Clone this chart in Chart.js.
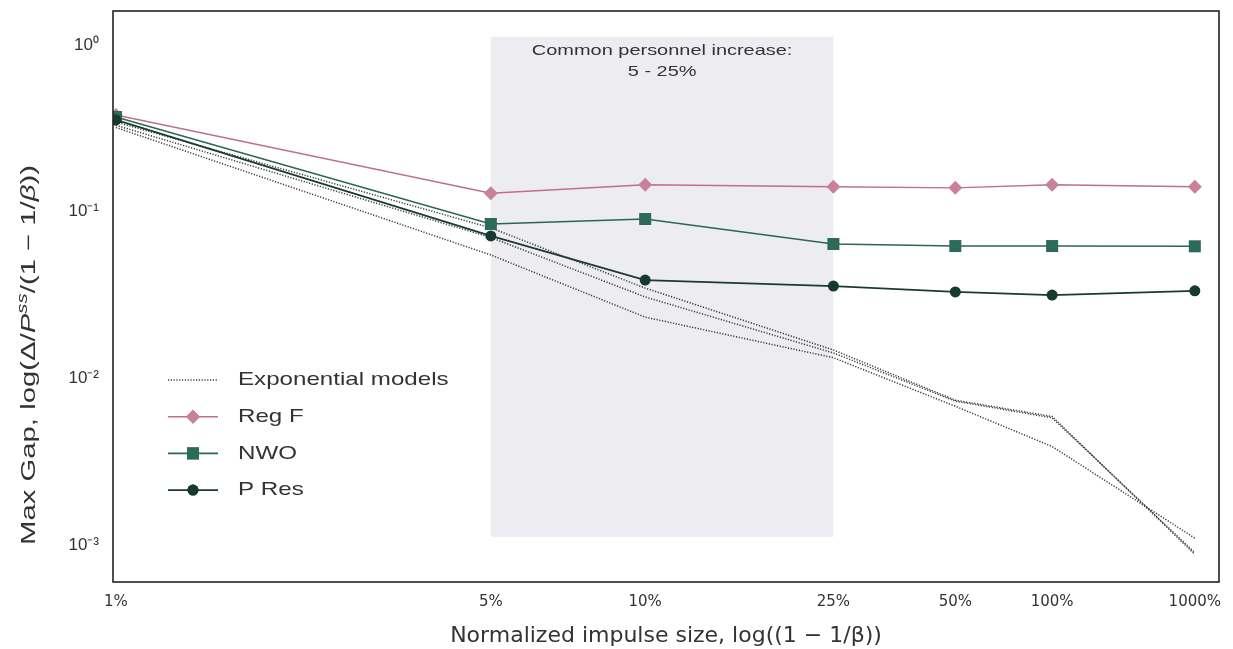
<!DOCTYPE html>
<html>
<head>
<meta charset="utf-8">
<script src="https://cdn.jsdelivr.net/npm/chart.js@4/dist/chart.umd.min.js"></script>
<style>
html,body{margin:0;padding:0;background:#fff;}
#wrap{width:1233px;height:649px;position:relative;}
</style>
</head>
<body>
<div id="wrap"><canvas id="c" width="1233" height="649"></canvas></div>
<script>
// ---- data ----
const impulsePct = [1, 5, 10, 25, 50, 100, 1000];
const tickLabels = ['1%', '5%', '10%', '25%', '50%', '100%', '1000%'];
const regF = [0.38, 0.129, 0.145, 0.141, 0.139, 0.145, 0.141];
const nwo  = [0.37, 0.0844, 0.0904, 0.064, 0.0622, 0.0622, 0.0620];
const pRes = [0.355, 0.0715, 0.0389, 0.0358, 0.0330, 0.0316, 0.0335];
const expModel1 = [0.345, 0.080, 0.0348, 0.0148, 0.0074, 0.0059, 0.00088];
const expModel2 = [0.330, 0.070, 0.0308, 0.0142, 0.0073, 0.0058, 0.00090];
const expModel3 = [0.320, 0.055, 0.0233, 0.0133, 0.0068, 0.0039, 0.00110];
const yTickValues = [1, 0.1, 0.01, 0.001];
const yTickLabels = ['10\u2070', '10\u207B\u00B9', '10\u207B\u00B2', '10\u207B\u00B3'];
const bandPct = [5, 25];
const bandY = [0.00112, 1.12];
const annotationLines = ['Common personnel increase:', '5 - 25%'];
const xTitle = 'Normalized impulse size, log((1 \u2212 1/\u03B2))';
// y title pieces: [text, italic, superscript]
const yTitleParts = [['Max Gap, log(\u0394/', false, false], ['P', true, false], ['ss', true, true],
                     ['/(1 \u2212 1/', false, false], ['\u03B2', true, false], ['))', false, false]];

// x position: 1 - 1/beta for impulse p (beta = 1 + p)
const toX = p => (p / 100) / (1 + p / 100);
const xVals = impulsePct.map(toX);
const pts = arr => arr.map((v, i) => ({x: xVals[i], y: v}));

const FONT = "'Liberation Sans', Arial, sans-serif";
const WFONT = "'DejaVu Sans', sans-serif";

const expStyle = {borderColor: '#3a3a3a', borderWidth: 1.5, borderDash: [1.2, 1.6], pointRadius: 0, fill: false, tension: 0, clip: 0, order: 10};

const datasets = [
  Object.assign({label: 'Exponential models', data: pts(expModel1)}, expStyle),
  Object.assign({label: 'Exponential models', data: pts(expModel2)}, expStyle),
  Object.assign({label: 'Exponential models', data: pts(expModel3)}, expStyle),
  {label: 'Reg F', data: pts(regF), borderColor: '#bf6f8b', borderWidth: 1.4, clip: 0, order: 3,
   pointStyle: 'rectRot', pointRadius: 7, pointBackgroundColor: '#c9819b', pointBorderColor: '#c9819b', pointBorderWidth: 0},
  {label: 'NWO', data: pts(nwo), borderColor: '#2a6656', borderWidth: 1.6, clip: 0, order: 2,
   pointStyle: 'rect', pointRadius: 8.5, pointBackgroundColor: '#2c6b59', pointBorderColor: '#2c6b59', pointBorderWidth: 0},
  {label: 'P Res', data: pts(pRes), borderColor: '#1b3a31', borderWidth: 1.8, clip: 0, order: 1,
   pointStyle: 'circle', pointRadius: 5.5, pointBackgroundColor: '#163a2f', pointBorderColor: '#163a2f', pointBorderWidth: 0}
];

function stretchedText(ctx, text, x, y, sx, align) {
  ctx.save();
  const w = ctx.measureText(text).width * sx;
  let left = x;
  if (align === 'center') left = x - w / 2;
  ctx.translate(left, y);
  ctx.scale(sx, 1);
  ctx.textAlign = 'left';
  ctx.fillText(text, 0, 0);
  ctx.restore();
}

const bandPlugin = {
  id: 'band',
  beforeDatasetsDraw(chart) {
    const {ctx, scales: {x, y}} = chart;
    const x0 = x.getPixelForValue(toX(bandPct[0])), x1 = x.getPixelForValue(toX(bandPct[1]));
    const y0 = y.getPixelForValue(bandY[1]), y1 = y.getPixelForValue(bandY[0]);
    ctx.save();
    ctx.fillStyle = 'rgba(228,228,234,0.65)';
    ctx.fillRect(x0, y0, x1 - x0, y1 - y0);
    ctx.fillStyle = '#333';
    ctx.font = '15px ' + FONT;
    ctx.textBaseline = 'middle';
    const cx = (x0 + x1) / 2;
    stretchedText(ctx, annotationLines[0], cx, y0 + 14, 1.33, 'center');
    stretchedText(ctx, annotationLines[1], cx, y0 + 35, 1.33, 'center');
    ctx.restore();
  },
  afterDraw(chart) {
    const {ctx, chartArea: a} = chart;
    ctx.save();
    ctx.strokeStyle = '#222';
    ctx.lineWidth = 1.6;
    ctx.strokeRect(a.left, a.top, a.right - a.left, a.bottom - a.top);

    // y-axis title (mathtext-like)
    ctx.save();
    ctx.fillStyle = '#333';
    ctx.textBaseline = 'alphabetic';
    ctx.textAlign = 'left';
    const fontFor = (it, sup) => (it ? 'italic ' : '') + (sup ? '14px ' : '20px ') + FONT;
    let total = 0;
    yTitleParts.forEach(([t, it, sup]) => { ctx.font = fontFor(it, sup); total += ctx.measureText(t).width; });
    const targetLen = 380, sx = targetLen / total;
    ctx.translate(35, 545);
    ctx.rotate(-Math.PI / 2);
    ctx.scale(sx, 1);
    let px = 0;
    yTitleParts.forEach(([t, it, sup]) => {
      ctx.font = fontFor(it, sup);
      ctx.fillText(t, px, sup ? -8 : 0);
      px += ctx.measureText(t).width;
    });
    ctx.restore();

    // legend
    const items = [datasets[0], datasets[3], datasets[4], datasets[5]];
    const lx0 = 168, lx1 = 218, tx = 238;
    let ly = 380;
    ctx.font = '19px ' + FONT;
    ctx.textBaseline = 'middle';
    items.forEach((d) => {
      ctx.save();
      ctx.strokeStyle = d.borderColor;
      ctx.lineWidth = d.borderWidth;
      ctx.setLineDash(d.borderDash || []);
      ctx.beginPath(); ctx.moveTo(lx0, ly); ctx.lineTo(lx1, ly); ctx.stroke();
      ctx.restore();
      if (d.pointRadius) {
        ctx.fillStyle = d.pointBackgroundColor;
        Chart.helpers.drawPoint(ctx, {pointStyle: d.pointStyle, radius: d.pointRadius, borderWidth: 0, rotation: 0}, (lx0 + lx1) / 2, ly);
        ctx.fill();
      }
      ctx.fillStyle = '#333';
      stretchedText(ctx, d.label, tx, ly, 1.27, 'left');
      ly += 36.7;
    });
    ctx.restore();
  }
};

new Chart(document.getElementById('c'), {
  type: 'line',
  data: {datasets},
  plugins: [bandPlugin],
  options: {
    responsive: false,
    animation: false,
    devicePixelRatio: 1,
    layout: {padding: {top: 11, right: 14, left: 0, bottom: 0}},
    plugins: {legend: {display: false}, tooltip: {enabled: false}},
    scales: {
      x: {
        type: 'logarithmic',
        min: 0.00978, max: 1.006,
        grid: {display: false, drawTicks: false},
        border: {display: false},
        afterBuildTicks(s) { s.ticks = xVals.map(v => ({value: v})); },
        afterFit(s) { s.height = 67; s.paddingLeft = 0; s.paddingRight = 0; },
        ticks: {
          autoSkip: false, maxRotation: 0, padding: 11,
          color: '#333', font: {family: WFONT, size: 15},
          callback: (v) => { const i = xVals.findIndex(t => Math.abs(t - v) < 1e-9); return i >= 0 ? tickLabels[i] : ''; }
        },
        title: {display: true, text: xTitle, color: '#333',
                font: {family: WFONT, size: 22}, padding: {top: 1, bottom: 0}}
      },
      y: {
        type: 'logarithmic',
        min: 0.0006, max: 1.6,
        grid: {display: false, drawTicks: false},
        border: {display: false},
        afterBuildTicks(s) { s.ticks = yTickValues.map(v => ({value: v})); },
        afterFit(s) { s.width = 113; s.paddingTop = 0; s.paddingBottom = 0; },
        ticks: {
          autoSkip: false, padding: 14,
          color: '#333', font: {family: FONT, size: 17},
          callback: (v) => { const i = yTickValues.findIndex(t => Math.abs(t - v) / t < 1e-6); return i >= 0 ? yTickLabels[i] : ''; }
        },
        title: {display: false}
      }
    }
  }
});
</script>
</body>
</html>
